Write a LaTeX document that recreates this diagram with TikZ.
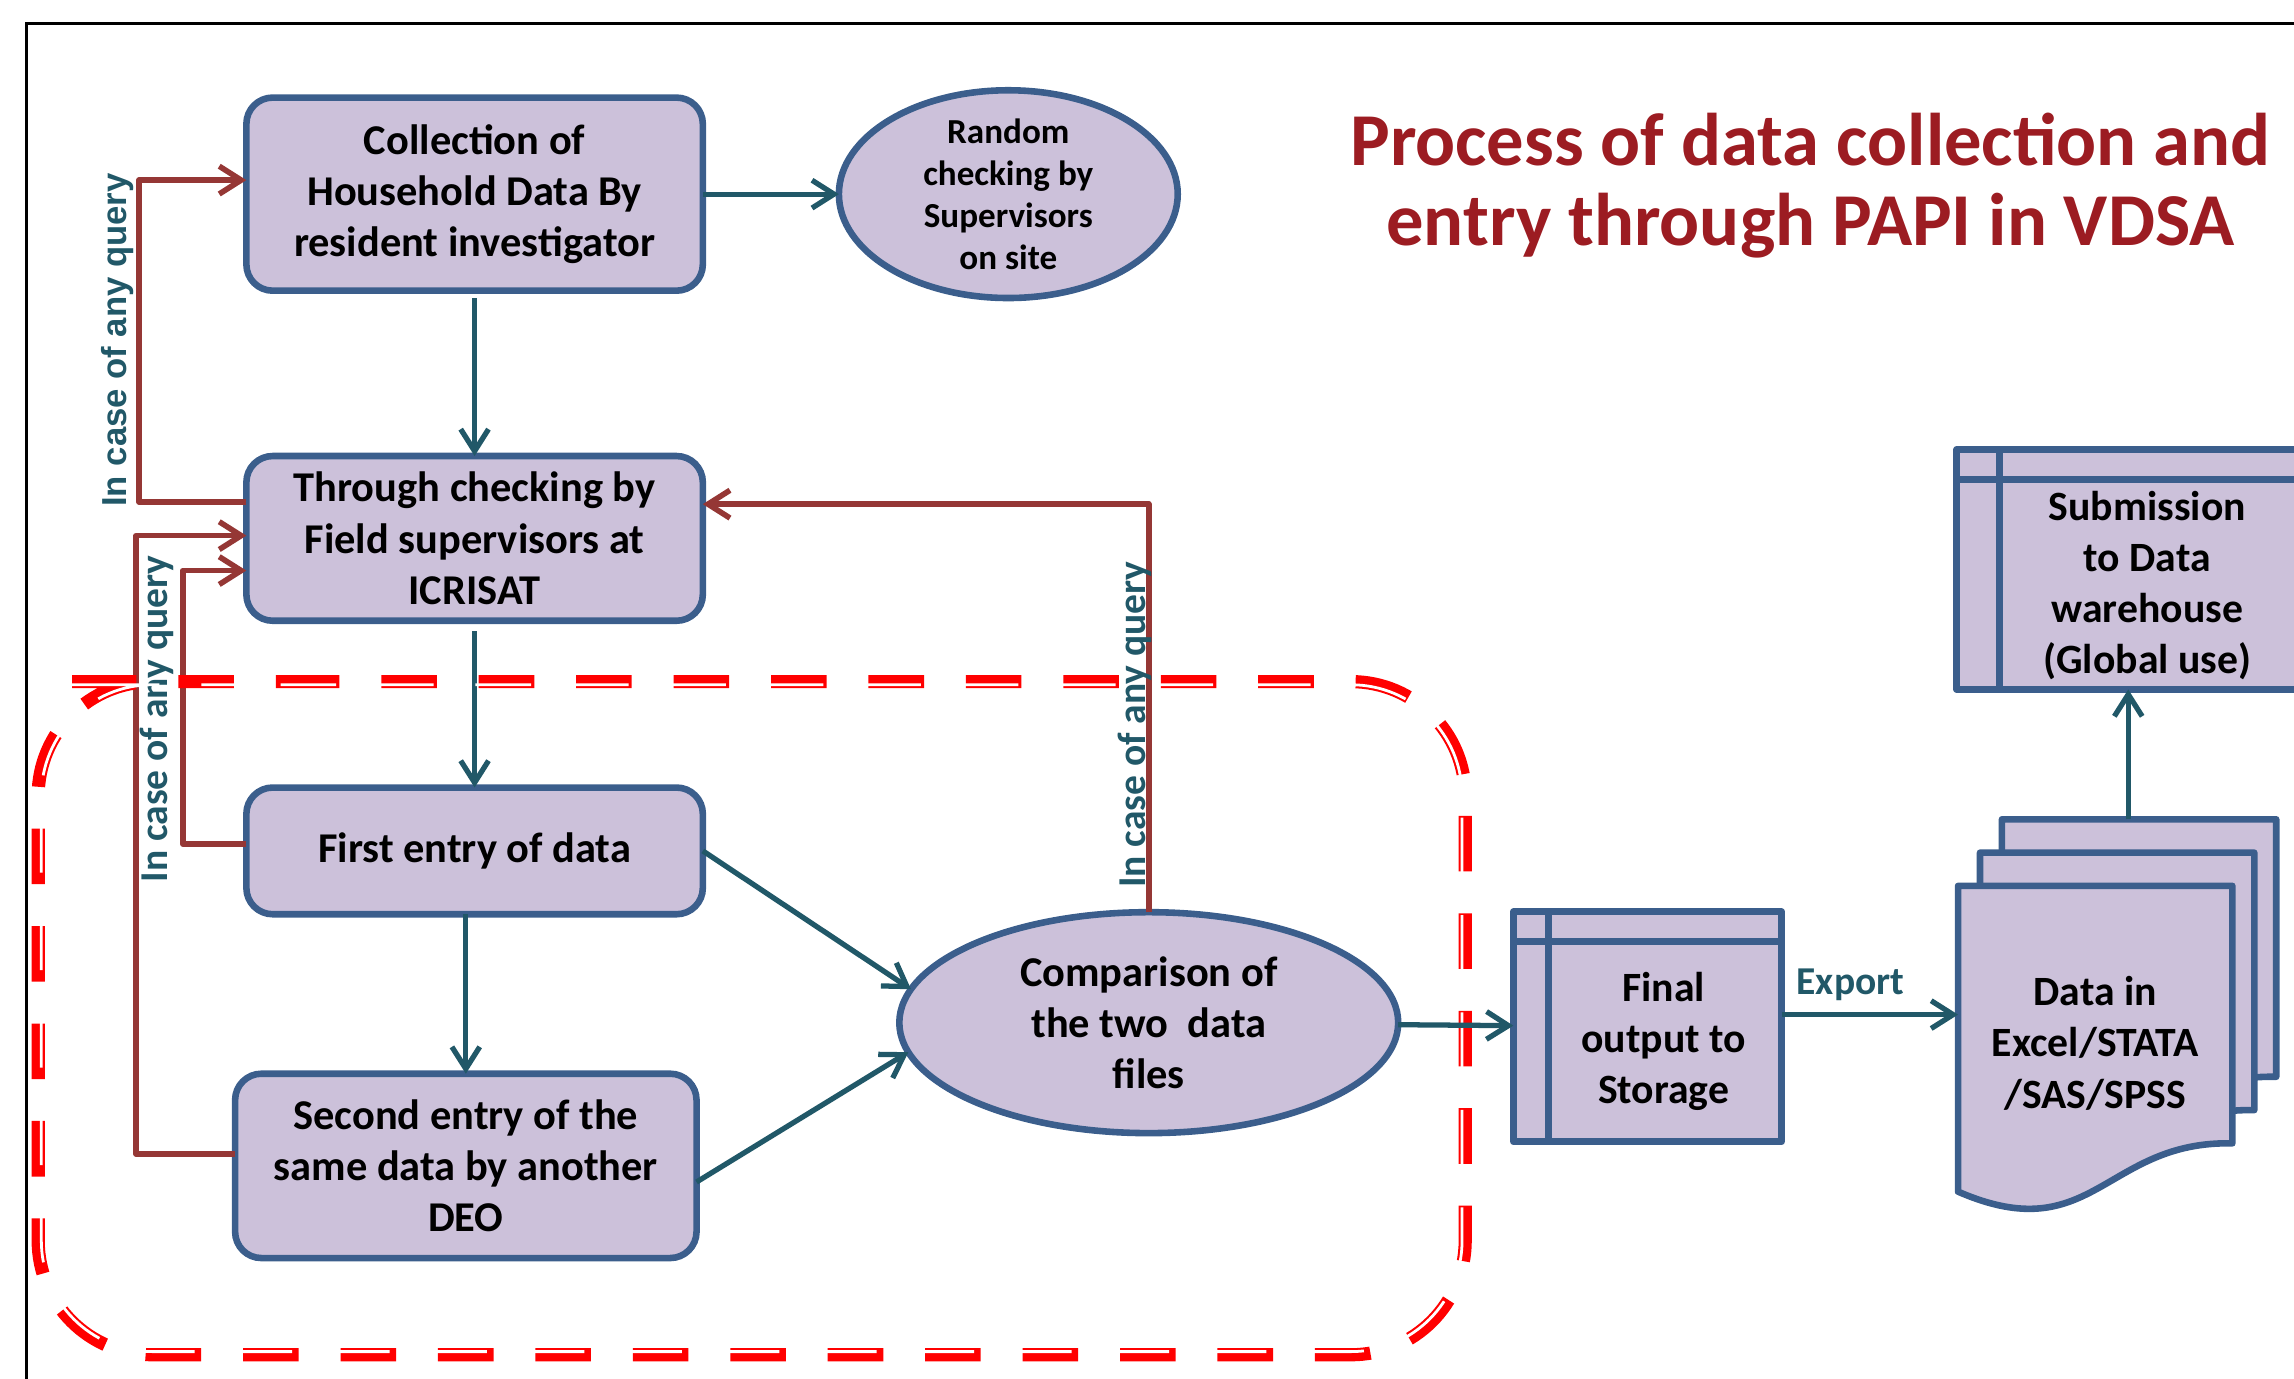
\documentclass[tikz,border=0pt]{standalone}
\usepackage{fontspec}
\setmainfont{Carlito}
\newfontfamily\arialfont{Liberation Sans}
\usetikzlibrary{positioning, arrows.meta, shapes.geometric, calc}

\definecolor{boxfill}{RGB}{204,193,218}
\definecolor{boxline}{RGB}{59,94,140}
\definecolor{flowteal}{RGB}{33,88,104}
\definecolor{querybrown}{RGB}{149,55,53}
\definecolor{titlered}{RGB}{156,28,34}

\tikzset{
  stepbox/.style={draw=boxline, fill=boxfill, line width=4.5pt, rounded corners=18pt, outer sep=0pt, inner sep=4pt, minimum width=312pt, align=center, font=\fontsize{29}{35}\selectfont\bfseries},
  oval/.style={ellipse, draw=boxline, fill=boxfill, line width=4.5pt, outer sep=0pt, inner sep=0pt, align=center, font=\fontsize{29}{35}\selectfont\bfseries},
  store/.style={rectangle, draw=boxline, fill=boxfill, line width=4.5pt, outer sep=0pt, inner sep=0pt, line join=round,
    path picture={\draw[boxline, line width=4.5pt] ([xshift=#1]path picture bounding box.north west) -- ([xshift=#1]path picture bounding box.south west)
      ([yshift=-20.5pt]path picture bounding box.north west) -- ([yshift=-20.5pt]path picture bounding box.north east);}},
  sheet/.style={rectangle, draw=none, outer sep=0pt, inner sep=0pt, minimum width=187.5pt, minimum height=176pt},
  sheetline/.style={draw=boxline, fill=boxfill, line width=4.5pt, line join=round},
  txt/.style={align=center, inner sep=0pt, font=\fontsize{28.5}{35}\selectfont\bfseries},
  flow/.style={draw=flowteal, line width=3.6pt, -{Straight Barb[length=15pt, width=19pt]}},
  query/.style={draw=querybrown, line width=3.8pt, line join=round, -{Straight Barb[length=15pt, width=19pt]}},
  qlabel/.style={rotate=90, text=flowteal, inner sep=0pt, font=\fontsize{27}{27}\selectfont\bfseries},
  exportlbl/.style={text=flowteal, inner sep=0pt, font=\fontsize{27}{27}\selectfont\bfseries},
  zone/.style={dash pattern=on 38pt off 28.6pt, rounded corners=78pt}
}

\begin{document}
\begin{tikzpicture}[x=1pt, y=-1pt]
\useasboundingbox (0,0) rectangle (1568,942);
\draw[line width=2pt] (1580,16) -- (18,16) -- (18,960);

\node[align=center, text=titlered, font=\fontsize{51}{54.5}\selectfont\bfseries] (title) at (1237.5,127) {Process of data collection and\\entry through PAPI in VDSA};

\node[stepbox, minimum height=132pt] (coll) at (324.4,132.7) {Collection of\\Household Data By\\resident investigator};
\node[oval, minimum width=231.6pt, minimum height=142pt, inner sep=-6pt, font=\fontsize{24}{28.7}\selectfont\bfseries, right=93pt of coll] (rand) {Random\\checking by\\Supervisors\\on site};
\node[stepbox, minimum height=112.6pt, below=113pt of coll] (thru) {Through checking by\\Field supervisors at\\ICRISAT};
\node[stepbox, minimum height=86.6pt, below=114pt of thru] (first) {First entry of data};
\node[stepbox, minimum width=315.4pt, minimum height=126pt, below=109pt of first, xshift=-6pt] (second) {Second entry of the\\same data by another\\DEO};
\node[oval, minimum width=341pt, minimum height=151pt] (comp) at (785.2,699) {Comparison of\\the two~ data\\files};
\node[store=23.9pt, minimum width=183.4pt, minimum height=157.2pt, right=78.7pt of comp, yshift=-2.8pt] (final) {};
\node[txt] (finaltxt) at ($(final.center)+(11,10)$) {Final\\output to\\Storage};
\node[store=29.2pt, minimum width=234.6pt, minimum height=164.1pt] (sub) at (1454.7,389.2) {};
\node[txt] (subtxt) at ($(sub.center)+(13,11)$) {Submission\\to Data\\warehouse\\(Global use)};

\node[sheet] (docC) at (1462.1,648) {};
\node[sheet] (docB) at (1447.1,670.8) {};
\node[sheet] (docA) at (1432.1,693.5) {};
\foreach \d in {docC,docB,docA}
  \filldraw[sheetline] (\d.north west) -- (\d.north east) -- (\d.south east) .. controls +(-87,-2) and +(92,40) .. ($(\d.south west)+(0,33)$) -- cycle;
\node[txt] (datatxt) at ($(docA.center)+(0,19.5)$) {Data in\\Excel/STATA\\/SAS/SPSS};

\draw[flow] (coll) -- (rand);
\draw[flow, shorten <=5pt] (coll) -- (thru);
\draw[flow, shorten <=7pt] (thru) -- (first);
\draw[flow] (first.south -| second.north) -- (second.north);
\draw[flow] (first.east) -- (comp.172);
\draw[flow] (second.-4) -- (comp.187);
\draw[flow] (docA.west -| final.east) -- node[pos=0.39, anchor=base, yshift=14pt, exportlbl] {Export} (docA.west);
\draw[flow] (sub.south |- docC.north) -- (sub.south);

\draw[query] ($(thru.north west)+(0,31.4)$) -- ++(-73.4,0) |- ($(coll.north west)+(0,56.4)$);
\draw[query] ($(first.west)+(0,-4.6)$) -- ++(-43.4,0) |- ($(thru.north west)+(0,78.3)$);
\draw[query] ($(second.west)+(0,-8)$) -- ++(-67.6,0) |- ($(thru.north west)+(0,54.4)$);
\draw[query] (comp.north) |- ($(thru.north east)+(0,32.9)$);

\node[qlabel, font=\arialfont\fontsize{23.7}{23.7}\selectfont\bfseries] (q1) at (80.5,232.4) {In case of any query};
\node[qlabel] (q2) at (107,491.5) {In case of any query};
\node[qlabel] (q3) at (775.8,495.3) {In case of any query};

% dashed area round the entry steps
\draw[zone, red, line width=9pt] (116,465.9) -- (1001.5,465.9) -- (1001.5,926) -- (26.1,926) -- (26.1,465.9) -- cycle;
\draw[zone, white, line width=1.9pt, rounded corners=75.8pt] (116,468.05) -- (999.35,468.05) -- (999.35,923.85) -- (28.25,923.85) -- (28.25,468.05) -- cycle;

\draw[flow] (comp) -- (final);
\end{tikzpicture}
\end{document}
